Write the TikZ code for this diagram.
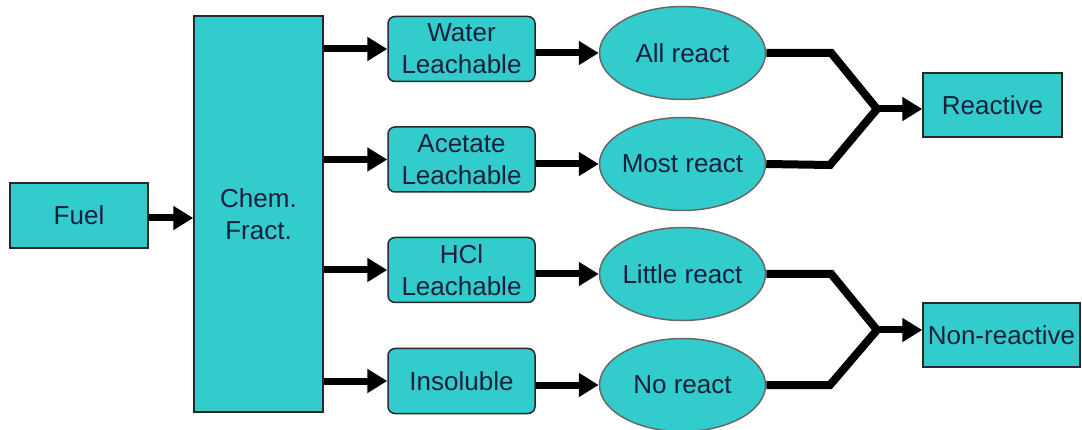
\documentclass[tikz,border=0pt]{standalone}
\usepackage{fontspec}
\setmainfont{Liberation Sans}
\usetikzlibrary{arrows.meta,shapes.geometric}
\usepackage{xcolor}
\definecolor{boxColor}{RGB}{51,204,204}
\definecolor{textColor}{RGB}{22,32,60}
\definecolor{edgeColor}{RGB}{40,40,40}
\newcommand{\diagfont}{\fontsize{26}{32}\selectfont}

\begin{document}
\begin{tikzpicture}[x=1pt, y=-1pt,
        block/.style={draw=edgeColor, line width=1.5pt, fill=boxColor, text=textColor, inner sep=2pt, align=center, font=\diagfont},
        leach/.style={block, rounded corners=7pt, minimum width=147pt, minimum height=65pt},
        react/.style={block, ellipse, draw=edgeColor!70, inner xsep=-15pt, inner ysep=0pt, minimum width=166pt, minimum height=93pt},
        arr/.style={-{Triangle[length=20pt, width=23pt]}, line width=7pt, black},
        merge/.style={line width=8pt, black, line join=miter}
      ]
      \useasboundingbox (0,0) rectangle (1082,430);
      % source and fractionation
      \node[block, minimum width=138pt, minimum height=65pt] (fuel) at (79,215.5) {Fuel};
      \node[block, minimum width=129pt, minimum height=396pt] (chem) at (258.5,214) {Chem.\\Fract.};
      % leaching steps
      \node[leach] (water) at (461.5,49) {Water\\Leachable};
      \node[leach] (acetate) at (461.5,159.5) {Acetate\\Leachable};
      \node[leach] (hcl) at (461.5,270) {HCl\\Leachable};
      \node[leach] (insol) at (461.5,381) {Insoluble};
      % reactivity
      \node[react] (allr) at (682.5,53) {All react};
      \node[react] (mostr) at (682.5,164) {Most react};
      \node[react] (littler) at (682.5,274) {Little react};
      \node[react] (nor) at (682.5,385) {No react};
      % outcome
      \node[block, minimum width=139pt, minimum height=64pt] (reactive) at (992.5,105) {Reactive};
      \node[block, minimum width=157pt, minimum height=64pt] (nonreactive) at (1001.5,335) {Non-reactive};
      \coordinate (jr) at (877,109);
      \coordinate (jn) at (877,330);

      \draw[arr] (fuel.east |- 0,218) -- (chem.west |- 0,218);
      \draw[arr] (chem.east |- water) -- (water);
      \draw[arr] (chem.east |- acetate) -- (acetate);
      \draw[arr] (chem.east |- hcl) -- (hcl);
      \draw[arr] (chem.east |- insol) -- (insol);
      \draw[arr] (water.east |- allr) -- (allr);
      \draw[arr] (acetate.east |- mostr) -- (mostr);
      \draw[arr] (hcl.east |- littler) -- (littler);
      \draw[arr] (insol.east |- nor) -- (nor);

      \draw[merge] (allr.east) -- ++(65,0) -- (jr) -- ++(-47,56) -- (mostr.east);
      \draw[merge] (littler.east) -- ++(65,0) -- (jn) -- ++(-47,55) -- (nor.east);
      \draw[arr] (jr) -- (jr -| reactive.west);
      \draw[arr] (jn) -- (jn -| nonreactive.west);
    \end{tikzpicture}
\end{document}
